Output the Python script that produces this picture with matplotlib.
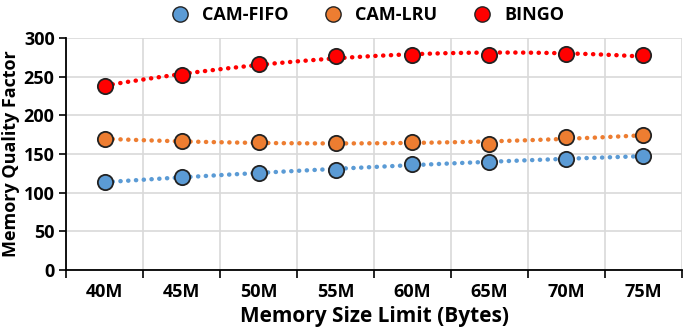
import numpy as np
import matplotlib.pyplot as plt
from matplotlib.lines import Line2D

sizes = ['40M', '45M', '50M', '55M', '60M', '65M', '70M', '75M']
cam_fifo = [114, 120, 125, 130, 137, 140, 144, 147]
cam_lru = [169, 167, 165, 164, 165, 163, 172, 174]
bingo = [238, 252, 267, 277, 278, 278, 279, 278]

plt.rcParams['font.family'] = ['Open Sans', 'DejaVu Sans']
plt.rcParams['font.weight'] = 'bold'

fig = plt.figure(figsize=(6.85, 3.36), dpi=100)
ax = fig.add_axes([0.097, 0.196, 0.898, 0.691])

x = np.arange(len(sizes))
xs = np.linspace(0, len(sizes) - 1, 200)

series = [('CAM-FIFO', cam_fifo, '#5b9bd5'),
          ('CAM-LRU', cam_lru, '#ed7d31'),
          ('BINGO', bingo, '#ff0000')]

handles = []
for name, vals, col in series:
    # excel style polynomial trendline
    coef = np.polyfit(x, vals, 2)
    ax.plot(xs, np.polyval(coef, xs), color=col, lw=3.2,
            linestyle=(0, (0.05, 1.7)), dash_capstyle='round', zorder=2)
    ax.plot(x, vals, 'o', ms=11, mfc=col, mec='#222222', mew=1.3, zorder=3)
    handles.append(Line2D([], [], marker='o', ls='none', ms=11, mfc=col,
                          mec='#222222', mew=1.0, label=name))

ax.set_xlim(-0.5, len(sizes) - 0.5)
ax.set_ylim(0, 300)
ax.set_yticks(range(0, 301, 50))
ax.set_xticks(np.arange(-0.5, len(sizes), 1))
ax.set_xticklabels([])
ax.set_xticks(x, minor=True)
ax.set_xticklabels(sizes, minor=True)
ax.tick_params(axis='x', which='minor', length=0, pad=9, labelsize=13)
ax.tick_params(axis='x', which='major', length=6, width=1.2, direction='out')
ax.tick_params(axis='y', length=5, width=1.2, labelsize=13)

ax.grid(True, which='major', color='#d9d9d9', lw=1.2)
ax.set_axisbelow(True)
for s in ['top', 'right']:
    ax.spines[s].set_visible(False)
for s in ['left', 'bottom']:
    ax.spines[s].set_linewidth(1.3)

ax.set_xlabel('Memory Size Limit (Bytes)', fontsize=15, fontweight='bold', labelpad=4)
ax.set_ylabel('Memory Quality Factor', fontsize=13, fontweight='bold', labelpad=3)

fig.legend(handles=handles, loc='upper center', bbox_to_anchor=(0.53, 1.03),
           ncol=3, frameon=False, fontsize=13, handletextpad=0.2,
           columnspacing=1.5)

fig.savefig('out.png', dpi=100)
